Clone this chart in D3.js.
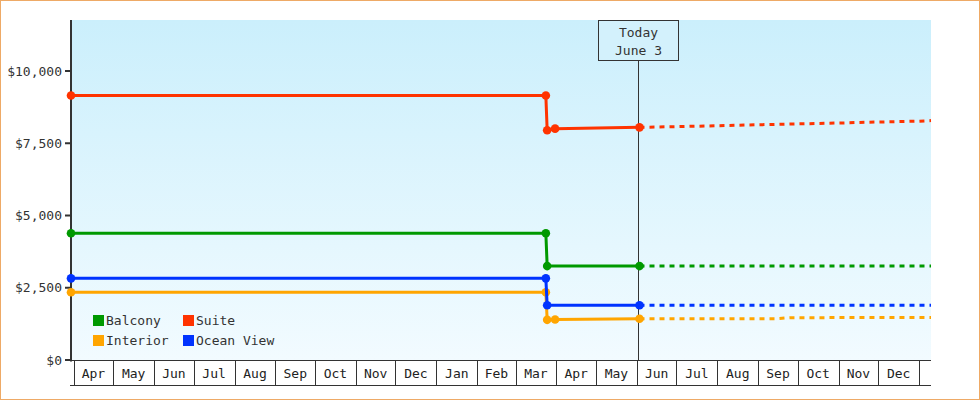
<!DOCTYPE html>
<html><head><meta charset="utf-8">
<script src="https://cdn.jsdelivr.net/npm/d3@7"></script>
<style>
html,body{margin:0;padding:0;background:#fff;}
svg{display:block;font-family:"DejaVu Sans Mono",monospace;}
</style></head><body>
<svg id="chart" width="980" height="400"></svg>
<script>
// ---------- data ----------
const monthLabels = ["Apr","May","Jun","Jul","Aug","Sep","Oct","Nov","Dec","Jan","Feb","Mar","Apr","May","Jun","Jul","Aug","Sep","Oct","Nov","Dec"];
const yTickValues = [0, 2500, 5000, 7500, 10000];
const xDomain = ["2023-03-30", "2025-01-10"];
const yMax = 11765;
const todayDate = "2024-06-03";
const todayLabel = ["Today", "June 3"];

const balconyDates  = ["2023-03-30","2024-03-24","2024-03-25","2024-06-03"];
const balconyValues = [4385, 4385, 3250, 3250];
const balconyForecastDates  = ["2024-06-03","2025-01-10"];
const balconyForecastValues = [3250, 3250];

const suiteDates  = ["2023-03-30","2024-03-24","2024-03-25","2024-03-31","2024-06-03"];
const suiteValues = [9150, 9150, 7950, 8005, 8050];
const suiteForecastDates  = ["2024-06-03","2024-07-01","2024-08-01","2024-09-01","2024-10-01","2024-11-01","2024-12-01","2025-01-01","2025-01-10"];
const suiteForecastValues = [8050, 8075, 8105, 8140, 8170, 8200, 8235, 8265, 8285];

const interiorDates  = ["2023-03-30","2024-03-24","2024-03-25","2024-03-31","2024-06-03"];
const interiorValues = [2345, 2345, 1390, 1400, 1425];
const interiorForecastDates  = ["2024-06-03","2024-09-15","2024-09-25","2025-01-10"];
const interiorForecastValues = [1425, 1430, 1465, 1470];

const oceanDates  = ["2023-03-30","2024-03-24","2024-03-25","2024-06-03"];
const oceanValues = [2825, 2825, 1895, 1895];
const oceanForecastDates  = ["2024-06-03","2025-01-10"];
const oceanForecastValues = [1895, 1895];

const seriesNames = ["Balcony", "Suite", "Interior", "Ocean View"];

// ---------- styles ----------
const colors = {"Balcony":"#009900","Suite":"#ff3300","Interior":"#ffa500","Ocean View":"#0033ff"};
const W = 980, H = 400;
const M = {left:71, right:49, top:20, bottom:40};
const ink = "#333";

const parse = d3.utcParse("%Y-%m-%d");
const zip = (ds, vs) => ds.map((d,i)=>({date:parse(d), value:vs[i]}));
const series = [
  {name:"Interior",   actual: zip(interiorDates, interiorValues), forecast: zip(interiorForecastDates, interiorForecastValues)},
  {name:"Ocean View", actual: zip(oceanDates, oceanValues),       forecast: zip(oceanForecastDates, oceanForecastValues)},
  {name:"Balcony",    actual: zip(balconyDates, balconyValues),   forecast: zip(balconyForecastDates, balconyForecastValues)},
  {name:"Suite",      actual: zip(suiteDates, suiteValues),       forecast: zip(suiteForecastDates, suiteForecastValues)}
];

const svg = d3.select("#chart");
const x = d3.scaleUtc().domain(xDomain.map(parse)).range([M.left, W - M.right]);
const y = d3.scaleLinear().domain([0, yMax]).range([H - M.bottom, M.top]);
const x0 = x.range()[0], x1 = x.range()[1], yb = y(0), yt = y(yMax);

// outer border
svg.append("rect").attr("x",0.5).attr("y",0.5).attr("width",W-1).attr("height",H-1)
  .attr("fill","#fff").attr("stroke","#eeaa66").attr("stroke-width",1);

// plot background gradient
const defs = svg.append("defs");
const grad = defs.append("linearGradient").attr("id","bg").attr("x1",0).attr("y1",0).attr("x2",0).attr("y2",1);
grad.append("stop").attr("offset","0%").attr("stop-color","#cbeffc");
grad.append("stop").attr("offset","100%").attr("stop-color","#f2fbff");
svg.append("rect").attr("x",x0).attr("y",yt).attr("width",x1-x0).attr("height",yb-yt).attr("fill","url(#bg)");

// x axis: month boxes
const months = d3.utcMonth.range(d3.utcMonth.ceil(x.domain()[0]), x.domain()[1]);
const xa = svg.append("g").attr("class","x-axis");
xa.append("line").attr("x1",x0-1).attr("x2",x1).attr("y1",yb+0.5).attr("y2",yb+0.5).attr("stroke",ink);
xa.append("line").attr("x1",x0-1).attr("x2",x1).attr("y1",yb+25.5).attr("y2",yb+25.5).attr("stroke",ink);
xa.selectAll("line.tick").data(months).join("line").attr("class","tick")
  .attr("x1",d=>Math.round(x(d))+0.5).attr("x2",d=>Math.round(x(d))+0.5)
  .attr("y1",yb).attr("y2",yb+25).attr("stroke",ink);
xa.selectAll("text").data(months.slice(0, monthLabels.length)).join("text")
  .attr("x",(d)=>(x(d)+x(d3.utcMonth.offset(d,1)))/2)
  .attr("y",yb+13).attr("dy","0.35em").attr("text-anchor","middle")
  .attr("font-size",13).attr("fill","#222")
  .text((d,i)=>monthLabels[i]);

// y axis
const ya = svg.append("g").attr("class","y-axis");
ya.append("line").attr("x1",x0).attr("x2",x0).attr("y1",yt).attr("y2",yb+1.5).attr("stroke",ink).attr("stroke-width",2);
ya.selectAll("line.tick").data(yTickValues).join("line").attr("class","tick")
  .attr("x1",x0-6).attr("x2",x0).attr("y1",d=>y(d)).attr("y2",d=>y(d)).attr("stroke",ink).attr("stroke-width",2);
ya.selectAll("text").data(yTickValues).join("text")
  .attr("x",x0-9).attr("y",d=>y(d)).attr("dy","0.35em").attr("text-anchor","end")
  .attr("font-size",13).attr("fill","#333")
  .text(d=>d3.format("$,")(d));

// today marker
const tx = Math.floor(x(parse(todayDate))) - 0.5;
svg.append("line").attr("x1",tx).attr("x2",tx).attr("y1",60).attr("y2",yb).attr("stroke",ink).attr("stroke-width",1);
svg.append("rect").attr("x",tx-40).attr("y",yt+0.5).attr("width",80).attr("height",40)
  .attr("fill","#d3f1fc").attr("stroke",ink).attr("stroke-width",1);
svg.append("text").attr("x",tx).attr("y",32).attr("dy","0.35em").attr("text-anchor","middle")
  .attr("font-size",13).attr("fill","#333").text(todayLabel[0]);
svg.append("text").attr("x",tx).attr("y",50).attr("dy","0.35em").attr("text-anchor","middle")
  .attr("font-size",13).attr("fill","#333").text(todayLabel[1]);

// series
const line = d3.line().x(d=>x(d.date)).y(d=>y(d.value));
const sg = svg.append("g").attr("class","series");
series.forEach(s=>{
  const g = sg.append("g");
  g.append("path").attr("d",line(s.forecast)).attr("fill","none").attr("stroke",colors[s.name])
    .attr("stroke-width",3).attr("stroke-dasharray","5,5");
  g.append("path").attr("d",line(s.actual)).attr("fill","none").attr("stroke",colors[s.name])
    .attr("stroke-width",3).attr("stroke-linejoin","round");
  g.selectAll("circle").data(s.actual).join("circle")
    .attr("cx",d=>x(d.date)).attr("cy",d=>y(d.value)).attr("r",4.3).attr("fill",colors[s.name]);
});

// legend
const lg = svg.append("g").attr("class","legend");
seriesNames.forEach((n,i)=>{
  const col = i % 2, row = Math.floor(i/2);
  const lx = 93 + col*90, ly = 315 + row*20;
  lg.append("rect").attr("x",lx).attr("y",ly).attr("width",11).attr("height",11).attr("fill",colors[n]);
  lg.append("text").attr("x",lx+13).attr("y",ly+5.5).attr("dy","0.35em").attr("font-size",13).attr("fill","#333").text(n);
});
</script>
</body></html>
